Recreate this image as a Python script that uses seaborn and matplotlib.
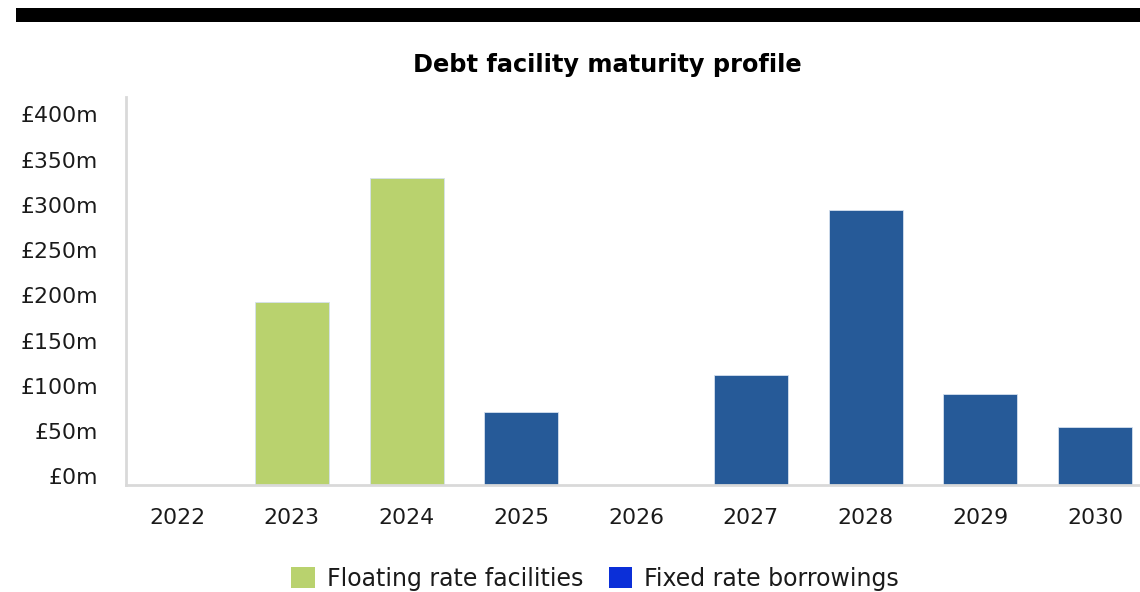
import matplotlib
matplotlib.use("Agg")
import matplotlib.pyplot as plt
import matplotlib.transforms as mtransforms
from matplotlib.patches import Patch, Rectangle
import seaborn as sns
import pandas as pd

years = ["2022", "2023", "2024", "2025", "2026", "2027", "2028", "2029", "2030"]
floating_years = ["2023", "2024"]
floating_values = [203, 340]
fixed_years = ["2025", "2027", "2028", "2029", "2030"]
fixed_values = [81, 122, 304, 101, 65]
y_ticks = [0, 50, 100, 150, 200, 250, 300, 350, 400]
y_tick_labels = ["£0m", "£50m", "£100m", "£150m", "£200m", "£250m", "£300m", "£350m", "£400m"]
series_names = ["Floating rate facilities", "Fixed rate borrowings"]

bar_colors = {"Floating rate facilities": "#B9D26E", "Fixed rate borrowings": "#265A98"}
legend_colors = ["#B9D26E", "#0B2FD8"]

df = pd.DataFrame({
    "year": floating_years + fixed_years,
    "value": floating_values + fixed_values,
    "type": [series_names[0]] * len(floating_years) + [series_names[1]] * len(fixed_years),
})

sns.set_theme(style="white")
plt.rcParams["font.family"] = ["DejaVu Sans"]

fig = plt.figure(figsize=(11.4, 5.92), dpi=100)
ax = fig.add_axes([0.1105, 0.18, 0.8895, 0.656])

sns.barplot(data=df, x="year", y="value", hue="type", order=years,
            hue_order=series_names, palette=bar_colors, dodge=False,
            saturation=1, width=0.645, edgecolor="#d4e0ee", linewidth=0.6,
            ax=ax, legend=False)

ax.set_xlim(-0.445, 8.39)
ax.set_ylim(0, 429)
ax.set_yticks(y_ticks)
ax.set_yticklabels(y_tick_labels)
ax.set_xlabel("")
ax.set_ylabel("")
ax.tick_params(axis="both", length=0, labelsize=15.8, labelcolor="#1a1a1a")
ax.tick_params(axis="y", pad=20)
ax.tick_params(axis="x", pad=16)

# y labels sit slightly above their value lines, as in the reference
offset = mtransforms.ScaledTranslation(0, 9 / 100, fig.dpi_scale_trans)
for lbl in ax.get_yticklabels():
    lbl.set_transform(lbl.get_transform() + offset)

for side in ["top", "right"]:
    ax.spines[side].set_visible(False)
for side in ["left", "bottom"]:
    ax.spines[side].set_color("#d9d9d9")
    ax.spines[side].set_linewidth(2)

# black band at the top
fig.patches.append(Rectangle((16 / 1140, 1 - 22 / 592), 1 - 16 / 1140, 14 / 592,
                             transform=fig.transFigure, facecolor="black",
                             edgecolor="none"))

fig.text(0.533, 0.890, "Debt facility maturity profile", ha="center", va="center",
         fontsize=17.3, fontweight="bold", color="black")

handles = [Patch(facecolor=c, edgecolor="none") for c in legend_colors]
fig.legend(handles, series_names, loc="center", bbox_to_anchor=(0.522, 0.022),
           ncol=2, frameon=False, fontsize=17, handlelength=1.0, handleheight=1.0,
           handletextpad=0.5, columnspacing=1.1, labelcolor="#1a1a1a")

fig.savefig("out.png", dpi=100)
